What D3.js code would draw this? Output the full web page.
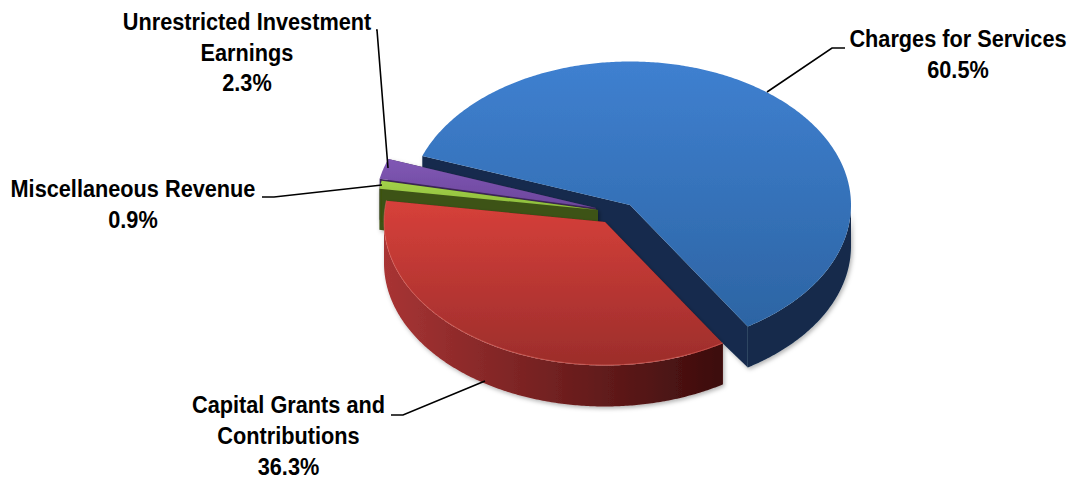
<!DOCTYPE html>
<html>
<head>
<meta charset="utf-8">
<script src="https://cdn.jsdelivr.net/npm/d3@7/dist/d3.min.js"></script>
<style>
html,body{margin:0;padding:0;background:#fff}
svg{display:block}
text{font-family:"Liberation Sans",Arial,sans-serif;font-weight:bold;font-size:24px;fill:#000}
</style>
</head>
<body>
<svg id="chart" width="1070" height="480"></svg>
<script>
// Revenue shares, in drawing order around the pie (clockwise)
const categories = ["Charges for Services", "Capital Grants and Contributions", "Miscellaneous Revenue", "Unrestricted Investment Earnings"];
const shares = [60.5, 36.3, 0.9, 2.3];
const labelLines = [["Charges for Services"], ["Capital Grants and", "Contributions"], ["Miscellaneous Revenue"], ["Unrestricted Investment", "Earnings"]];

// Tilted-disc geometry
const RX = 221, RY = 143.5, DEPTH = 41, APEX_DROP = 8;
const START_DEG = 290;
const centres = [[630, 205], [605, 222], [598, 210], [596, 208]];
const topRanges = [[62, 330], [203, 366], [182, 210], [160, 208]];
const topColours = [["#3f80d0", "#2c64a3"], ["#d6403a", "#9c2d2b"], ["#a2d048", "#8cbc3c"], ["#8058b4", "#6c469c"]];
const wallColours = [["#16305a", "#122a4c"], ["#a83434", "#3a0c0c"], ["#45601a", "#3a4e12"], ["#3c2858", "#3c2858"]];
const cutColours = ["#142c4e", "#6a1c1c", "#3d5212", "#3c2858"];
const labelAnchors = [[958, 47], [288.5, 413.4], [133, 197], [247, 30]];
const labelStep = 30.7;
const labelSqueeze = 0.905;
const leaders = [
  [[845, 48], [832, 48], [767, 92]],
  [[391, 415], [403, 415], [485, 381]],
  [[262, 197], [274, 197], [382, 185]],
  [[376, 30], [377, 30], [388, 168]]
];

const svg = d3.select("#chart");
const defs = svg.append("defs");

const soft = defs.append("filter").attr("id", "soft")
  .attr("x", "-10%").attr("y", "-10%").attr("width", "120%").attr("height", "125%");
soft.append("feDropShadow").attr("dx", 1.5).attr("dy", 2).attr("stdDeviation", 2)
  .attr("flood-color", "#000").attr("flood-opacity", 0.3);
const edge = defs.append("filter").attr("id", "edge");
edge.append("feGaussianBlur").attr("stdDeviation", 0.5);

const slices = d3.pie().sort(null)
  .startAngle(START_DEG * Math.PI / 180)
  .endAngle((START_DEG + 360) * Math.PI / 180)(shares);

// Screen position of a point on a slice's rim, lifted or dropped by z
const rim = (i, a, z = 0) => {
  const [cx, cy] = centres[i];
  return [cx + RX * Math.sin(a), cy - Math.cos(a) * RY + z];
};
const rimPoints = (i, a0, a1, z = 0) => {
  const n = Math.max(2, Math.ceil(Math.abs(a1 - a0) / 0.01));
  return d3.range(n + 1).map(k => rim(i, a0 + (a1 - a0) * k / n, z));
};
const path = pts => d3.line()(pts) + "Z";

slices.forEach((s, i) => {
  const g = defs.append("linearGradient").attr("id", `top${i}`).attr("gradientUnits", "userSpaceOnUse")
    .attr("x1", 0).attr("x2", 0).attr("y1", topRanges[i][0]).attr("y2", topRanges[i][1]);
  g.append("stop").attr("offset", 0).attr("stop-color", topColours[i][0]);
  g.append("stop").attr("offset", 1).attr("stop-color", topColours[i][1]);
  const w = defs.append("linearGradient").attr("id", `wall${i}`).attr("gradientUnits", "userSpaceOnUse")
    .attr("x1", centres[i][0] - RX).attr("x2", centres[i][0] + RX * 0.55).attr("y1", 0).attr("y2", 0);
  w.append("stop").attr("offset", 0).attr("stop-color", wallColours[i][0]);
  w.append("stop").attr("offset", 1).attr("stop-color", wallColours[i][1]);
});

// Back slices first, front slices last, so nearer faces cover farther ones
const order = [0, 3, 2, 1];
const chart = svg.append("g");
order.forEach(i => {
  const s = slices[i];
  const g = chart.append("g").attr("class", "slice");
  const [cx, cy] = centres[i];
  const walls = g.append("g").attr("filter", "url(#soft)");
  // cut faces running in to the centre; the inner corner dips a little so the two faces close up
  [s.startAngle, s.endAngle].forEach(a => {
    const p = rim(i, a);
    walls.append("path")
      .attr("d", path([[cx, cy], p, [p[0], p[1] + DEPTH], [cx, cy + DEPTH + APEX_DROP]]))
      .attr("fill", cutColours[i]);
  });
  // outer rim, limited to the part of the disc that faces the viewer
  const tau = 2 * Math.PI;
  const lo = Math.max(s.startAngle, Math.PI / 2), hi = Math.min(s.endAngle, 3 * Math.PI / 2);
  const lo2 = Math.max(s.startAngle - tau, Math.PI / 2), hi2 = Math.min(s.endAngle - tau, 3 * Math.PI / 2);
  [[lo, hi], [lo2, hi2]].filter(r => r[1] > r[0]).forEach(([a0, a1]) => {
    walls.append("path")
      .attr("d", path(rimPoints(i, a0, a1).concat(rimPoints(i, a1, a0, DEPTH))))
      .attr("fill", `url(#wall${i})`);
  });
  // top face
  g.append("path")
    .attr("d", path([[cx, cy]].concat(rimPoints(i, s.startAngle, s.endAngle))))
    .attr("fill", `url(#top${i})`)
    .attr("filter", "url(#edge)");
});

// Pale bevel along the front of the red face
chart.append("path")
  .attr("d", d3.line()(rimPoints(1, slices[1].startAngle, slices[1].endAngle, -0.5)))
  .attr("fill", "none").attr("stroke", "#e8736c").attr("stroke-opacity", 0.5).attr("stroke-width", 1);

// Leader lines
svg.append("g").selectAll("path").data(leaders).join("path")
  .attr("d", d => d3.line()(d))
  .attr("fill", "none").attr("stroke", "#000").attr("stroke-width", 1.6);

// Labels: name lines, then the share; glyphs are condensed horizontally
const labels = svg.append("g").selectAll("text").data(categories).join("text")
  .attr("text-anchor", "middle")
  .attr("transform", (d, i) => `translate(${labelAnchors[i][0]},${labelAnchors[i][1]}) scale(${labelSqueeze},1)`);
labels.each(function (d, i) {
  const lines = labelLines[i].concat(`${shares[i].toFixed(1)}%`);
  d3.select(this).selectAll("tspan").data(lines).join("tspan")
    .attr("x", 0)
    .attr("y", (l, k) => k * labelStep)
    .text(l => l);
});
</script>
</body>
</html>
